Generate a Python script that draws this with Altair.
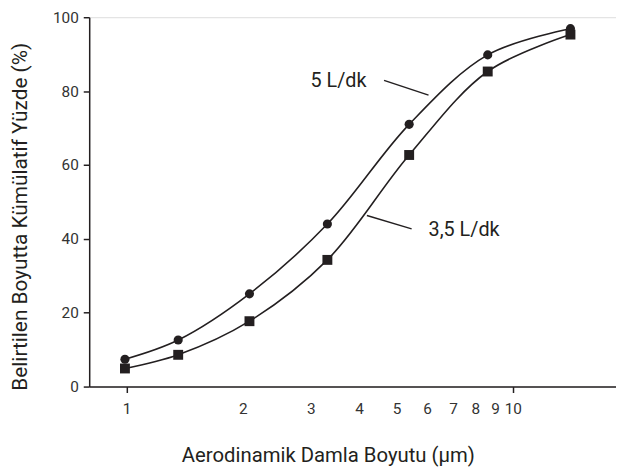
import altair as alt
import pandas as pd

sizes = [0.99, 1.36, 2.08, 3.31, 5.39, 8.61, 14.1]
flow5 = [7.4, 12.6, 25.1, 44.0, 71.0, 89.8, 96.9]
flow35 = [4.9, 8.6, 17.7, 34.3, 62.7, 85.3, 95.3]
series_names = ["5 L/dk", "3,5 L/dk"]
tick_values = [1, 2, 3, 4, 5, 6, 7, 8, 9, 10]

# annotation text + leader lines
label_text = ["5 L/dk", "3,5 L/dk"]
label_x = [4.18, 6.05]
label_y = [82.7, 42.4]
label_align = ["right", "left"]
leader_x = [4.64, 4.19]
leader_y = [82.9, 46.3]
leader_x2 = [6.05, 5.47]
leader_y2 = [78.9, 42.7]

FONT = "Roboto, Liberation Sans, sans-serif"
INK = "#231f20"

rows = []
for s, a, b in zip(sizes, flow5, flow35):
    rows.append({"size": s, "pct": a, "series": series_names[0]})
    rows.append({"size": s, "pct": b, "series": series_names[1]})
df = pd.DataFrame(rows)

xscale = alt.Scale(type="log", domain=[0.8, 18.5], nice=False)
yscale = alt.Scale(domain=[0, 100], nice=False)

xaxis = alt.Axis(
    values=tick_values, format="d", grid=False, labelFlush=False,
    tickSize=6, tickWidth=1.5,
    tickColor={"condition": {"test": "datum.value == 1 || datum.value == 10", "value": INK}, "value": "transparent"},
    labelPadding=9, labelFontSize=15.5, labelFont=FONT, labelColor="#333",
    domainColor=INK, domainWidth=1.5,
    title="Aerodinamik Damla Boyutu (µm)", titleFont=FONT, titleFontSize=20.5,
    titleFontWeight="normal", titleColor=INK, titleX=241, titleY=70,
    titleAlign="center", titleBaseline="middle",
)
yaxis = alt.Axis(
    values=[0, 20, 40, 60, 80, 100], grid=False, tickSize=6, tickWidth=1.5,
    tickColor=INK, labelPadding=5, labelFontSize=15.5, labelFont=FONT,
    labelColor="#333", domainColor=INK, domainWidth=1.5,
    title="Belirtilen Boyutta Kümülatif Yüzde (%)", titleFont=FONT,
    titleFontSize=21, titleFontWeight="normal", titleColor=INK,
    titleX=-69, titleY=201, titleAngle=270, titleAlign="center",
    titleBaseline="middle",
)

base = alt.Chart(df)
lines = base.mark_line(color=INK, strokeWidth=1.6, interpolate="catmull-rom").encode(
    x=alt.X("size:Q", scale=xscale, axis=xaxis),
    y=alt.Y("pct:Q", scale=yscale, axis=yaxis),
    detail="series:N",
)
pts = base.mark_point(filled=True, opacity=1, color=INK).encode(
    x=alt.X("size:Q", scale=xscale),
    y=alt.Y("pct:Q", scale=yscale),
    shape=alt.Shape("series:N", scale=alt.Scale(domain=series_names, range=["circle", "square"]), legend=None),
    size=alt.Size("series:N", scale=alt.Scale(domain=series_names, range=[85, 100]), legend=None),
)

ann = pd.DataFrame({"text": label_text, "x": label_x, "y": label_y, "align": label_align})
lead = pd.DataFrame({"x": leader_x, "y": leader_y, "x2": leader_x2, "y2": leader_y2})

texts = alt.layer(*[
    alt.Chart(ann[ann["align"] == al]).mark_text(align=al, baseline="middle", font=FONT, fontSize=20, color=INK).encode(
        x=alt.X("x:Q", scale=xscale), y=alt.Y("y:Q", scale=yscale), text="text:N")
    for al in ["right", "left"]
])
rules = alt.Chart(lead).mark_rule(color=INK, strokeWidth=1.5).encode(
    x=alt.X("x:Q", scale=xscale), y=alt.Y("y:Q", scale=yscale),
    x2="x2:Q", y2="y2:Q",
)

chart = alt.layer(lines, pts, rules, texts).properties(
    width=532, height=373,
    autosize=alt.AutoSizeParams(type="none"),
    padding={"left": 82, "top": 7, "right": 0, "bottom": 88},
).configure_view(stroke=None).configure(background="white")

chart.save("out.html", embed_options={"renderer": "svg", "actions": False})
